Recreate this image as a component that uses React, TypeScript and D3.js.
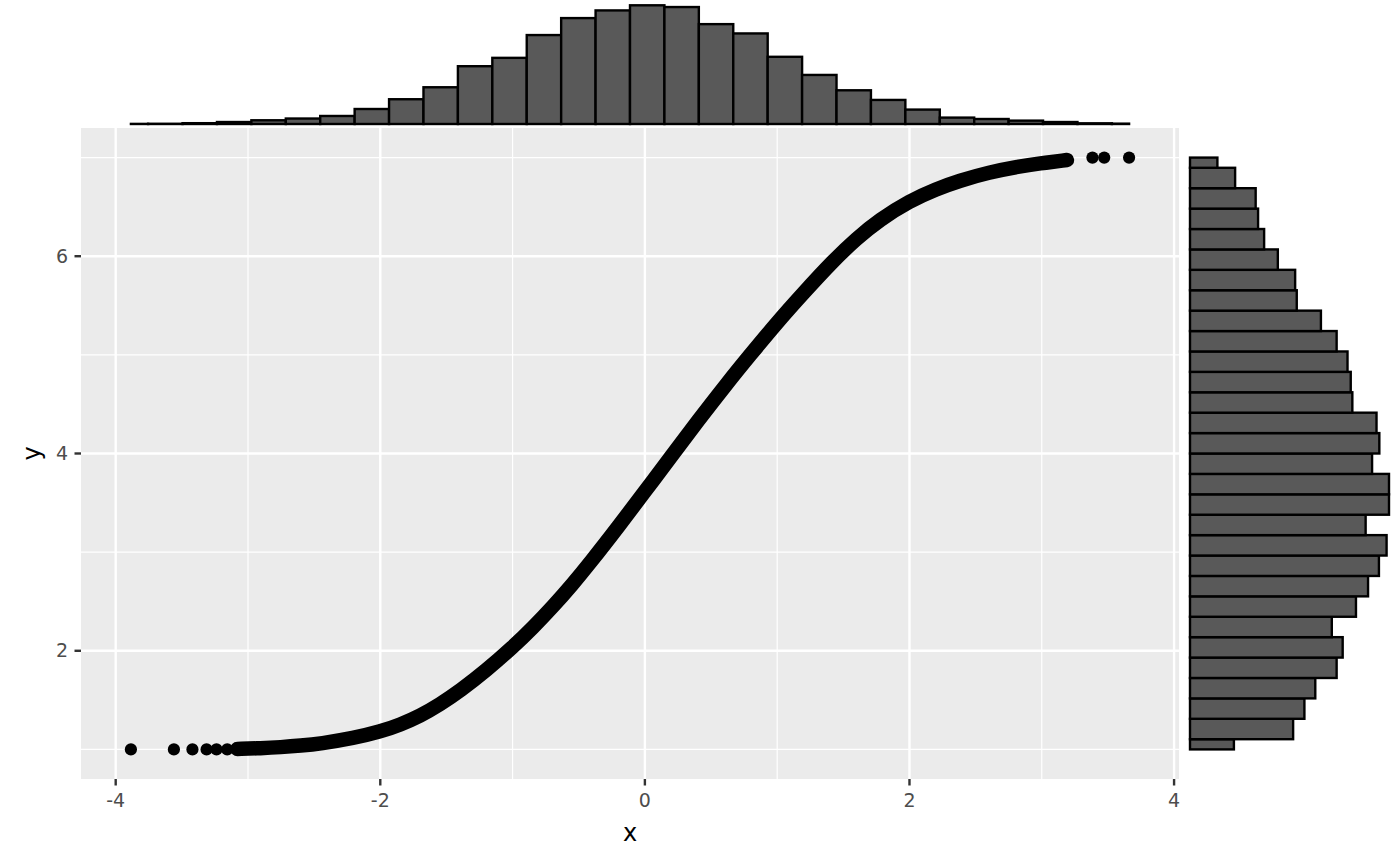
import React from "react";
import * as d3 from "d3";

// scatter: dense part of the point cloud
const curveX = [-3.08, -2.9, -2.755, -2.6, -2.453, -2.2, -2.0, -1.85, -1.698, -1.55, -1.396, -1.2, -0.996, -0.85, -0.694, -0.55, -0.415, -0.2, 0.0, 0.19, 0.4, 0.626, 0.79, 1.0, 1.2, 1.42, 1.6, 1.774, 2.0, 2.2, 2.377, 2.6, 2.83, 2.98, 3.19];
const curveY = [1.005, 1.012, 1.022, 1.038, 1.058, 1.115, 1.18, 1.25, 1.34, 1.455, 1.595, 1.8, 2.04, 2.23, 2.45, 2.67, 2.89, 3.26, 3.615, 3.955, 4.33, 4.72, 4.99, 5.33, 5.63, 5.95, 6.18, 6.37, 6.56, 6.68, 6.765, 6.85, 6.91, 6.94, 6.975];
// isolated points at both tails
const tailX = [-3.885, -3.56, -3.42, -3.313, -3.238, -3.157, 3.383, 3.472, 3.66];
const tailY = [1.0, 1.0, 1.0, 1.0, 1.0, 1.0, 7.0, 7.0, 7.0];

// marginal histogram counts (30 bins each)
const xCounts = [1, 2, 7, 17, 32, 47, 69, 129, 213, 316, 497, 569, 765, 911, 977, 1021, 1006, 859, 779, 578, 422, 290, 207, 124, 55, 43, 29, 17, 6, 3];
const yCounts = [109, 256, 284, 311, 364, 379, 352, 412, 442, 469, 488, 436, 494, 494, 452, 470, 463, 403, 399, 391, 364, 325, 265, 261, 218, 184, 169, 163, 112, 68];

const xTicks = [-4, -2, 0, 2, 4];
const xMinor = [-3, -1, 1, 3];
const yTicks = [2, 4, 6];
const yMinor = [1, 3, 5, 7];

const FONT = "DejaVu Sans, sans-serif";

export default function App() {
  const allX = [...curveX, ...tailX];
  const allY = [...curveY, ...tailY];
  const [xLo, xHi] = d3.extent(allX) as [number, number];
  const [yLo, yHi] = d3.extent(allY) as [number, number];
  const padX = (xHi - xLo) * 0.05;
  const padY = (yHi - yLo) * 0.05;

  const panel = { left: 81, right: 1179, top: 128, bottom: 779 };
  const x = d3.scaleLinear().domain([xLo - padX, xHi + padX]).range([panel.left, panel.right]);
  const y = d3.scaleLinear().domain([yLo - padY, yHi + padY]).range([panel.bottom, panel.top]);

  // top marginal (counts -> vertical px)
  const hx = d3.scaleLinear().domain([0, d3.max(xCounts)!]).range([124, 5.3]);
  // right marginal (counts -> horizontal px)
  const hy = d3.scaleLinear().domain([0, d3.max(yCounts)!]).range([1190, 1389]);

  const wX = (xHi - xLo) / (xCounts.length - 1);
  const startX = xLo - wX / 2;
  const wY = (yHi - yLo) / (yCounts.length - 1);
  const startY = yLo - wY / 2;

  const line = d3.line<number>()
    .x((_, i) => x(curveX[i]))
    .y((_, i) => y(curveY[i]))
    .curve(d3.curveBasis);

  return (
    <svg width={1400} height={866} style={{ position: "absolute", left: 0, top: 0 }}>
      <rect x={0} y={0} width={1400} height={866} fill="#fff" />

      {/* main panel */}
      <rect x={panel.left} y={panel.top} width={panel.right - panel.left} height={panel.bottom - panel.top} fill="#EBEBEB" />
      {xMinor.map(v => (
        <line key={"xm" + v} x1={x(v)} x2={x(v)} y1={panel.top} y2={panel.bottom} stroke="#fff" strokeWidth={1.2} />
      ))}
      {yMinor.map(v => (
        <line key={"ym" + v} y1={y(v)} y2={y(v)} x1={panel.left} x2={panel.right} stroke="#fff" strokeWidth={1.2} />
      ))}
      {xTicks.map(v => (
        <line key={"xg" + v} x1={x(v)} x2={x(v)} y1={panel.top} y2={panel.bottom} stroke="#fff" strokeWidth={2.4} />
      ))}
      {yTicks.map(v => (
        <line key={"yg" + v} y1={y(v)} y2={y(v)} x1={panel.left} x2={panel.right} stroke="#fff" strokeWidth={2.4} />
      ))}

      <path d={line(curveX) || ""} fill="none" stroke="#000" strokeWidth={14.5} strokeLinecap="round" strokeLinejoin="round" />
      {tailX.map((v, i) => (
        <circle key={"t" + i} cx={x(v)} cy={y(tailY[i])} r={6.1} fill="#000" />
      ))}

      {/* axes */}
      {xTicks.map(v => (
        <g key={"xt" + v}>
          <line x1={x(v)} x2={x(v)} y1={panel.bottom} y2={panel.bottom + 6.5} stroke="#333" strokeWidth={2.4} />
          <text x={x(v)} y={panel.bottom + 28} textAnchor="middle" fontFamily={FONT} fontSize={19} fill="#4D4D4D">{v}</text>
        </g>
      ))}
      {yTicks.map(v => (
        <g key={"yt" + v}>
          <line x1={panel.left - 6.5} x2={panel.left} y1={y(v)} y2={y(v)} stroke="#333" strokeWidth={2.4} />
          <text x={panel.left - 13} y={y(v)} dy="0.35em" textAnchor="end" fontFamily={FONT} fontSize={19} fill="#4D4D4D">{v}</text>
        </g>
      ))}
      <text x={(panel.left + panel.right) / 2} y={841} textAnchor="middle" fontFamily={FONT} fontSize={24} fill="#000">x</text>
      <text transform={`translate(40,${(panel.top + panel.bottom) / 2}) rotate(-90)`} textAnchor="middle" fontFamily={FONT} fontSize={24} fill="#000">y</text>

      {/* top marginal histogram */}
      {xCounts.map((c, i) => {
        const a = Math.max(xLo, startX + i * wX);
        const b = Math.min(xHi, startX + (i + 1) * wX);
        return (
          <rect key={"hx" + i} x={x(a)} width={x(b) - x(a)} y={hx(c)} height={hx(0) - hx(c)}
            fill="#595959" stroke="#000" strokeWidth={2.4} />
        );
      })}

      {/* right marginal histogram */}
      {yCounts.map((c, i) => {
        const a = Math.max(yLo, startY + i * wY);
        const b = Math.min(yHi, startY + (i + 1) * wY);
        return (
          <rect key={"hy" + i} x={hy(0)} width={hy(c) - hy(0)} y={y(b)} height={y(a) - y(b)}
            fill="#595959" stroke="#000" strokeWidth={2.4} />
        );
      })}
    </svg>
  );
}
